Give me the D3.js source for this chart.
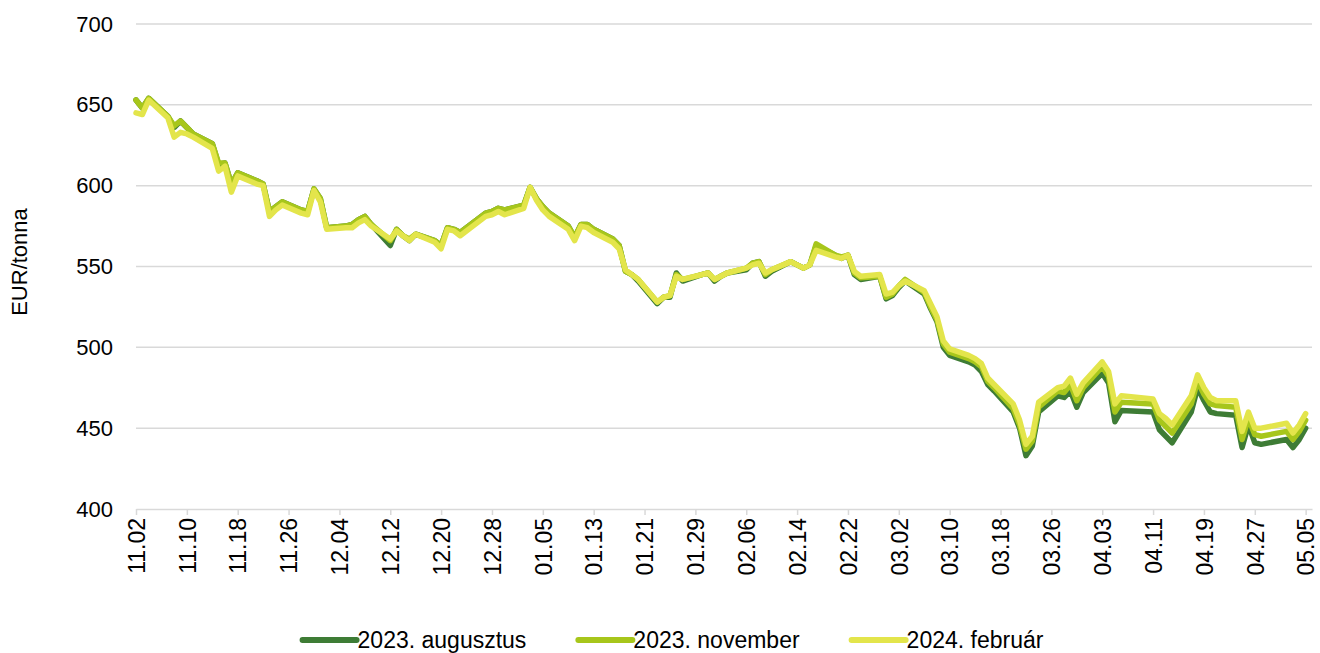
<!DOCTYPE html>
<html>
<head>
<meta charset="utf-8">
<script src="https://cdn.jsdelivr.net/npm/d3@7"></script>
<style>
  body { margin: 0; background: #fff; }
  text { font-family: "Liberation Sans", Arial, sans-serif; fill: #000; }
</style>
</head>
<body>
<div id="chart-container"></div>
<script>
// trading days (2022-11-02 .. 2023-05-05)
const dates = [
  "2022-11-02","2022-11-03","2022-11-04","2022-11-07","2022-11-08","2022-11-09","2022-11-10","2022-11-11",
  "2022-11-14","2022-11-15","2022-11-16","2022-11-17","2022-11-18","2022-11-21","2022-11-22","2022-11-23",
  "2022-11-24","2022-11-25","2022-11-28","2022-11-29","2022-11-30","2022-12-01","2022-12-02","2022-12-05",
  "2022-12-06","2022-12-07","2022-12-08","2022-12-09","2022-12-12","2022-12-13","2022-12-14","2022-12-15",
  "2022-12-16","2022-12-19","2022-12-20","2022-12-21","2022-12-22","2022-12-23","2022-12-27","2022-12-28",
  "2022-12-29","2022-12-30","2023-01-02","2023-01-03","2023-01-04","2023-01-05","2023-01-06","2023-01-09",
  "2023-01-10","2023-01-11","2023-01-12","2023-01-13","2023-01-16","2023-01-17","2023-01-18","2023-01-19",
  "2023-01-20","2023-01-23","2023-01-24","2023-01-25","2023-01-26","2023-01-27","2023-01-30","2023-01-31",
  "2023-02-01","2023-02-02","2023-02-03","2023-02-06","2023-02-07","2023-02-08","2023-02-09","2023-02-10",
  "2023-02-13","2023-02-14","2023-02-15","2023-02-16","2023-02-17","2023-02-20","2023-02-21","2023-02-22",
  "2023-02-23","2023-02-24","2023-02-27","2023-02-28","2023-03-01","2023-03-02","2023-03-03","2023-03-06",
  "2023-03-07","2023-03-08","2023-03-09","2023-03-10","2023-03-13","2023-03-14","2023-03-15","2023-03-16",
  "2023-03-17","2023-03-20","2023-03-21","2023-03-22","2023-03-23","2023-03-24","2023-03-27","2023-03-28",
  "2023-03-29","2023-03-30","2023-03-31","2023-04-03","2023-04-04","2023-04-05","2023-04-06","2023-04-11",
  "2023-04-12","2023-04-13","2023-04-14","2023-04-17","2023-04-18","2023-04-19","2023-04-20","2023-04-21",
  "2023-04-24","2023-04-25","2023-04-26","2023-04-27","2023-04-28","2023-05-02","2023-05-03","2023-05-04",
  "2023-05-05"
];

const augusztus = [
  653,648,654,643,636,640,636,632, 626,613,614,601,608,603,601,584,
  587,590,585,584,598,592,574,575, 576,579,581,576,563,573,569,566,
  570,566,563,574,573,571,583,584, 586,585,588,599,592,587,583,575,
  568,576,576,573,567,563,547,545, 541,527,531,531,546,541,545,546,
  541,544,546,548,552,553,544,547, 553,551,549,551,563,557,555,557,
  545,542,544,530,532,537,541,533, 524,516,500,495,491,489,485,477,
  473,460,450,433,439,460,470,469, 473,463,472,484,478,454,461,460,
  449,445,441,460,475,467,460,459, 458,438,452,441,440,443,438,443,
  450
];

const november = [
  653,648,654,643,637,640,636,632, 626,614,614,601,608,603,601,584,
  587,590,585,584,598,592,574,575, 576,579,581,576,566,573,569,567,
  570,566,563,574,573,571,583,584, 586,585,588,599,592,587,583,575,
  568,576,576,573,567,563,547,545, 542,528,531,532,545,542,545,546,
  542,544,546,549,552,553,545,548, 553,551,549,551,564,557,556,557,
  546,543,544,531,533,538,542,534, 525,517,502,497,493,491,488,479,
  475,462,452,437,442,463,473,472, 477,467,475,488,482,460,466,465,
  455,451,447,465,479,471,465,464, 463,443,456,446,445,448,443,448,
  455
];

const februar = [
  645,644,653,642,630,633,632,630, 623,609,612,596,606,601,600,581,
  585,588,583,582,597,590,573,574, 574,577,579,575,567,572,569,566,
  570,565,561,573,572,569,581,582, 584,582,586,599,591,585,581,573,
  566,575,574,571,565,561,548,545, 542,528,531,532,544,542,545,546,
  542,544,546,549,551,552,546,548, 553,551,549,551,560,556,555,557,
  547,544,545,533,534,538,541,535, 527,519,504,499,495,493,490,481,
  477,465,455,440,445,466,475,476, 481,471,478,491,485,465,470,468,
  459,456,452,470,483,475,469,467, 467,448,460,450,450,453,447,452,
  459
];

const seriesNames = ["2023. augusztus", "2023. november", "2024. február"];
const seriesColors = ["#3e7c35", "#a7c61b", "#e3e54b"];
const tickDates = [
  "2022-11-02","2022-11-10","2022-11-18","2022-11-26","2022-12-04","2022-12-12","2022-12-20","2022-12-28",
  "2023-01-05","2023-01-13","2023-01-21","2023-01-29","2023-02-06","2023-02-14","2023-02-22","2023-03-02",
  "2023-03-10","2023-03-18","2023-03-26","2023-04-03","2023-04-11","2023-04-19","2023-04-27","2023-05-05"
];
const yTicks = [400, 450, 500, 550, 600, 650, 700];

const parseDate = d3.timeParse("%Y-%m-%d");
const fmt = d3.timeFormat("%m.%d");

const margin = {top: 24, right: 8, bottom: 144, left: 136},
      width = 1320 - margin.left - margin.right,
      height = 653 - margin.top - margin.bottom;

const svg = d3.select("#chart-container").append("svg")
    .attr("width", 1320)
    .attr("height", 653);

const g = svg.append("g")
    .attr("transform", `translate(${margin.left}, ${margin.top})`);

const x = d3.scaleTime()
    .domain([parseDate("2022-11-02"), parseDate("2023-05-06")])
    .range([0, width]);

const y = d3.scaleLinear()
    .domain([400, 700])
    .range([height, 0]);

// horizontal gridlines
g.append("g")
    .selectAll("line")
    .data(yTicks.slice(1))
    .enter().append("line")
    .attr("x1", 0)
    .attr("x2", width)
    .attr("y1", d => y(d))
    .attr("y2", d => y(d))
    .attr("stroke", "#d9d9d9")
    .attr("stroke-width", 1.5);

// y axis labels
const yAxis = g.append("g")
    .call(d3.axisLeft(y).tickValues(yTicks).tickSize(0).tickPadding(23));
yAxis.select(".domain").remove();
yAxis.selectAll("text")
    .style("font-size", "22px")
    .style("font-family", "'Liberation Sans', Arial, sans-serif")
    .attr("fill", "#000");

// x axis
const xAxis = g.append("g")
    .attr("transform", `translate(0, ${height})`)
    .call(d3.axisBottom(x).tickValues(tickDates.map(parseDate)).tickFormat(fmt).tickSize(6).tickSizeOuter(0));
xAxis.select(".domain").attr("stroke", "#d9d9d9").attr("stroke-width", 1.5);
xAxis.selectAll(".tick line").attr("stroke", "#d9d9d9").attr("stroke-width", 1.5);
xAxis.selectAll("text")
    .style("font-size", "23px")
    .style("font-family", "'Liberation Sans', Arial, sans-serif")
    .attr("fill", "#000")
    .attr("transform", "rotate(-90)")
    .attr("text-anchor", "end")
    .attr("x", -9)
    .attr("y", 0)
    .attr("dy", "0.36em");

// y axis title
svg.append("text")
    .attr("transform", "rotate(-90)")
    .attr("x", -262)
    .attr("y", 27)
    .attr("text-anchor", "middle")
    .style("font-size", "22px")
    .text("EUR/tonna");

// lines
const allSeries = [augusztus, november, februar];
const line = d3.line()
    .x((d, i) => x(parseDate(dates[i])))
    .y(d => y(d));

g.selectAll(".series")
    .data(allSeries)
    .enter().append("path")
    .attr("class", "series")
    .attr("d", d => line(d))
    .attr("fill", "none")
    .attr("stroke", (d, i) => seriesColors[i])
    .attr("stroke-width", 5.5)
    .attr("stroke-linejoin", "round")
    .attr("stroke-linecap", "round");

// legend
const legendGap = 50;
const legend = svg.append("g");
let lx = 0;
seriesNames.forEach((name, i) => {
    const item = legend.append("g").attr("transform", `translate(${lx}, 0)`);
    item.append("line")
        .attr("x1", 2).attr("x2", 56)
        .attr("y1", 0).attr("y2", 0)
        .attr("stroke", seriesColors[i])
        .attr("stroke-width", 6)
        .attr("stroke-linecap", "round");
    const t = item.append("text")
        .attr("x", 57)
        .attr("y", 0)
        .attr("dy", "0.36em")
        .style("font-size", "23px")
        .text(name);
    lx += 57 + t.node().getComputedTextLength() + legendGap;
});
const legendWidth = lx - legendGap;
legend.attr("transform", `translate(${672 - legendWidth / 2}, 640)`);
</script>
</body>
</html>
